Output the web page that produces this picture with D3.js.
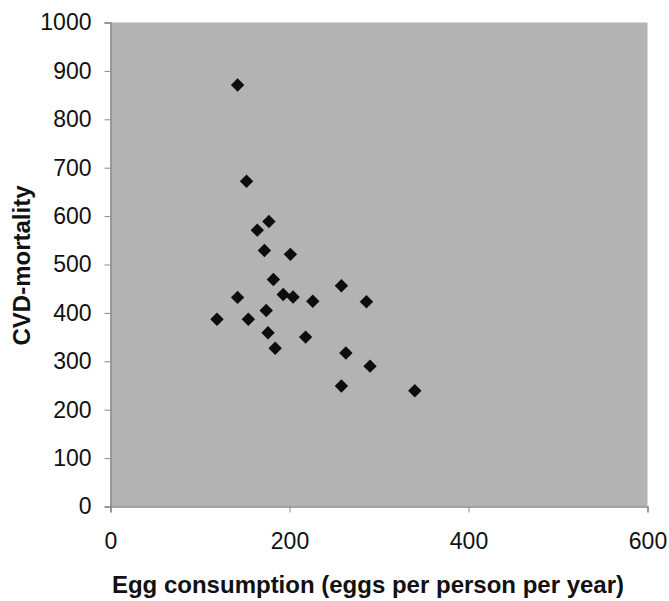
<!DOCTYPE html>
<html>
<head>
<meta charset="utf-8">
<script src="https://cdn.jsdelivr.net/npm/d3@7.9.0/dist/d3.min.js"></script>
<style>
  body { margin: 0; background: #fff; }
  text { font-family: "Liberation Sans", Arial, sans-serif; }
</style>
</head>
<body>
<div id="chart"></div>
<script>
// egg consumption (eggs per person per year)
const eggs = [142, 152, 177, 164, 172, 201, 182, 142, 193, 204, 226, 258, 286,
              174, 119, 154, 176, 218, 184, 263, 290, 258, 340];
// CVD mortality
const cvd = [871, 672, 589, 571, 529, 521, 469, 432, 438, 433, 424, 456, 423,
             405, 387, 387, 359, 350, 327, 317, 290, 249, 239];
const xTicks = [0, 200, 400, 600];
const yTicks = [0, 100, 200, 300, 400, 500, 600, 700, 800, 900, 1000];

const points = eggs.map((e, i) => ({ x: e, y: cvd[i] }));

const width = 669, height = 601;
const plot = { left: 110.5, right: 647.5, top: 22.5, bottom: 506.5 };

const svg = d3.select('#chart').append('svg')
  .attr('width', width)
  .attr('height', height);

const x = d3.scaleLinear().domain([0, 600]).range([plot.left, plot.right]);
const y = d3.scaleLinear().domain([0, 1000]).range([plot.bottom, plot.top]);

// 회색 배경
svg.append('rect')
  .attr('x', plot.left)
  .attr('y', plot.top)
  .attr('width', plot.right - plot.left)
  .attr('height', plot.bottom - plot.top)
  .attr('fill', '#b3b3b3');

// 축
const xAxis = svg.append('g')
  .attr('transform', `translate(0,${plot.bottom})`)
  .call(d3.axisBottom(x).tickValues(xTicks).tickFormat(d3.format('d')).tickSize(6).tickPadding(20));

const yAxis = svg.append('g')
  .attr('transform', `translate(${plot.left},0)`)
  .call(d3.axisLeft(y).tickValues(yTicks).tickFormat(d3.format('d')).tickSize(6).tickPadding(13));

[xAxis, yAxis].forEach(g => {
  g.attr('font-size', null).attr('font-family', null);
  g.select('.domain').attr('stroke', '#8a8a8a').attr('stroke-width', 1.5);
  g.selectAll('.tick line').attr('stroke', '#8a8a8a');
  g.selectAll('.tick text')
    .attr('fill', '#111')
    .style('font-size', '23px');
});

// 점 (다이아몬드)
const diamond = d3.symbol().type(d3.symbolSquare).size(90);
svg.append('g').selectAll('path')
  .data(points)
  .join('path')
  .attr('d', diamond)
  .attr('transform', d => `translate(${x(d.x)},${y(d.y)}) rotate(45)`)
  .attr('fill', '#0d0d0d');

// 축 제목
svg.append('text')
  .attr('x', 368)
  .attr('y', 593)
  .attr('text-anchor', 'middle')
  .style('font-size', '24px')
  .style('font-weight', 'bold')
  .attr('fill', '#111')
  .text('Egg consumption (eggs per person per year)');

svg.append('text')
  .attr('transform', `translate(30,${(plot.top + plot.bottom) / 2 + 1}) rotate(-90)`)
  .attr('text-anchor', 'middle')
  .style('font-size', '24px')
  .style('font-weight', 'bold')
  .attr('fill', '#111')
  .text('CVD-mortality');
</script>
</body>
</html>
